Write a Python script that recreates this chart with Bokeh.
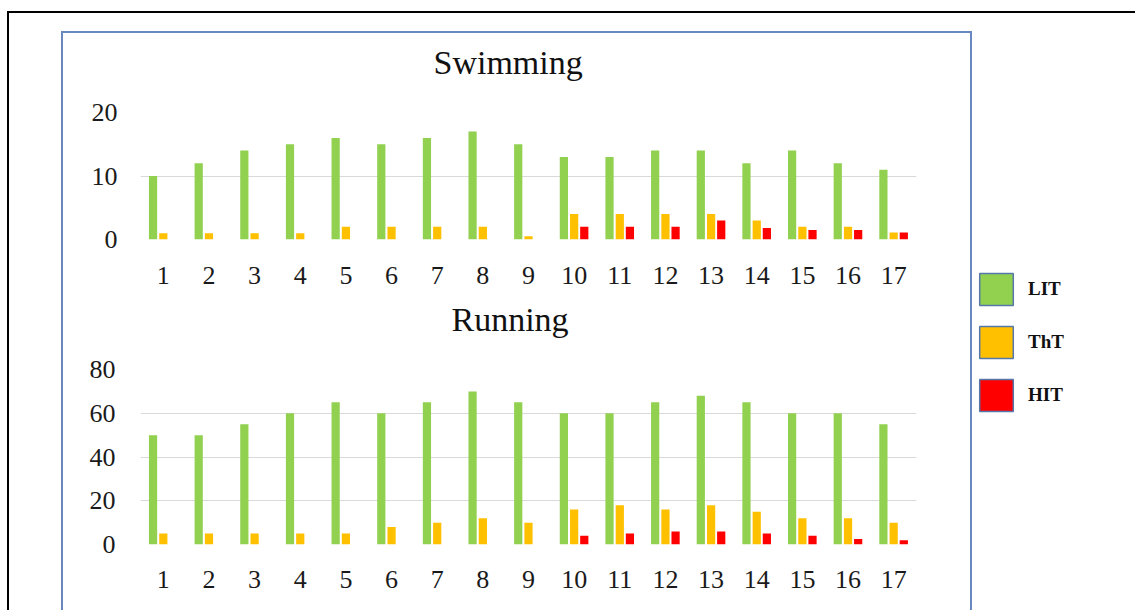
from bokeh.plotting import figure
from bokeh.models import (ColumnDataSource, FactorRange, Range1d, FixedTicker,
                          Legend, LegendItem, Spacer, Column, Row, Title)
from bokeh.transform import dodge
from bokeh.embed import file_html
from bokeh.resources import INLINE

# ---------------- data ----------------
categories = [str(i) for i in range(1, 18)]

swim_lit = [10, 12, 14, 15, 16, 15, 16, 17, 15, 13, 13, 14, 14, 12, 14, 12, 11]
swim_tht = [1, 1, 1, 1, 2, 2, 2, 2, 0.5, 4, 4, 4, 4, 3, 2, 2, 1.1]
swim_hit = [0, 0, 0, 0, 0, 0, 0, 0, 0, 2, 2, 2, 3, 1.8, 1.5, 1.5, 1.1]

run_lit = [50, 50, 55, 60, 65, 60, 65, 70, 65, 60, 60, 65, 68, 65, 60, 60, 55]
run_tht = [5, 5, 5, 5, 5, 8, 10, 12, 10, 16, 18, 16, 18, 15, 12, 12, 10]
run_hit = [0, 0, 0, 0, 0, 0, 0, 0, 0, 4, 5, 6, 6, 5, 4, 2.5, 2]

swim_ticks = [0, 10, 20]
run_ticks = [0, 20, 40, 60, 80]

series_names = ["LIT", "ThT", "HIT"]
series_colors = ["#92d050", "#ffc000", "#ff0000"]
series_cols = ["lit", "tht", "hit"]

FONT = "Liberation Serif"


def make_chart(title, lit, tht, hit, ticks, height, mb_top, mb_bottom,
               mb_left, mb_right, title_offset, ystandoff, xstandoff):
    src = ColumnDataSource(dict(cat=categories, lit=lit, tht=tht, hit=hit))
    p = figure(x_range=FactorRange(factors=categories, range_padding=0),
               y_range=Range1d(ticks[0], ticks[-1]),
               width=907, height=height, output_backend="svg",
               toolbar_location=None, title=title,
               min_border_top=mb_top, min_border_bottom=mb_bottom,
               min_border_left=mb_left, min_border_right=mb_right)
    offsets = [-0.225, 0.0, 0.222]
    for off, col, color in zip(offsets, series_cols, series_colors):
        p.vbar(x=dodge("cat", off, range=p.x_range), top=col, width=0.18,
               source=src, fill_color=color, line_color=None)
    p.outline_line_color = None
    p.xgrid.grid_line_color = None
    p.ygrid.grid_line_color = "#d9d9d9"
    p.ygrid.grid_line_width = 1
    p.yaxis.ticker = FixedTicker(ticks=ticks)
    for ax in (p.xaxis[0], p.yaxis[0]):
        ax.axis_line_color = None
        ax.major_tick_line_color = None
        ax.minor_tick_line_color = None
        ax.major_tick_out = 0
        ax.major_tick_in = 0
        ax.major_label_text_font = FONT
        ax.major_label_text_font_size = "26px"
        ax.major_label_text_color = "#1a1a1a"
    p.yaxis.major_label_standoff = ystandoff
    p.xaxis.major_label_standoff = xstandoff
    p.title.text_font = FONT
    p.title.text_font_size = "34px"
    p.title.text_font_style = "normal"
    p.title.text_color = "#111111"
    p.title.align = "left"
    p.title.offset = title_offset
    p.title.standoff = 0
    # gap between the title and the plot area
    p.add_layout(Title(text=" ", text_font_size="10px", standoff=19), "above")
    return p, src


top, swim_src = make_chart("Swimming", swim_lit, swim_tht, swim_hit, swim_ticks,
                           height=263, mb_top=79, mb_bottom=57, mb_left=77,
                           mb_right=54, title_offset=293, ystandoff=23,
                           xstandoff=27)
bot, run_src = make_chart("Running", run_lit, run_tht, run_hit, run_ticks,
                          height=314, mb_top=73, mb_bottom=66, mb_left=74,
                          mb_right=53, title_offset=311, ystandoff=25,
                          xstandoff=26)

# legend figure (outside the blue frame); its renderers are hidden so that
# only the legend swatches show
lg = figure(width=160, height=579, x_axis_location=None, y_axis_location=None,
            x_range=FactorRange(factors=categories),
            toolbar_location=None, output_backend="svg", min_border=0)
lg.outline_line_color = None
lg.grid.visible = False
items = []
for name, col, color in zip(series_names, series_cols, series_colors):
    r = lg.vbar(x="cat", top=col, width=0.5, source=swim_src, fill_color=color,
                line_color="#5577aa", line_width=1.5, visible=False)
    items.append(LegendItem(label=name, renderers=[r]))
legend = Legend(items=items, location=(3, 195), padding=0, margin=0,
                spacing=13, glyph_width=42, glyph_height=40, label_standoff=11,
                label_text_font=FONT, label_text_font_style="bold",
                label_text_font_size="19px", label_text_color="#111111",
                label_text_baseline="middle",
                border_line_color=None, background_fill_alpha=0)
lg.add_layout(legend)

blue = Column(children=[top, bot],
              styles={"border-left": "2px solid #6a88c0",
                      "border-top": "2px solid #6a88c0",
                      "border-right": "2px solid #6a88c0"})
inner = Column(children=[Spacer(height=18),
                         Row(children=[Spacer(width=52), blue, lg])])
outer = Column(children=[inner],
               styles={"border-left": "2px solid #000000",
                       "border-top": "2px solid #000000",
                       "margin-left": "7px", "margin-top": "11px",
                       "width": "1128px"})

open("out.html", "w").write(file_html(outer, INLINE))
